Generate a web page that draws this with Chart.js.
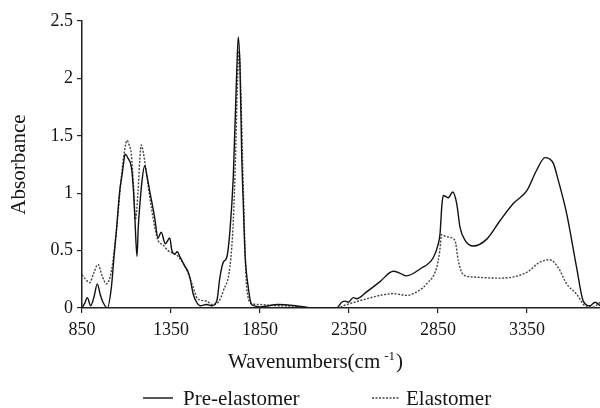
<!DOCTYPE html>
<html>
<head>
<meta charset="utf-8">
<script src="https://cdn.jsdelivr.net/npm/chart.js@4.4.1/dist/chart.umd.min.js"></script>
<style>
  html, body { margin: 0; padding: 0; background: #fff; }
  canvas { display: block; }
</style>
</head>
<body>
<canvas id="spectrum" width="600" height="408"></canvas>
<script>
// ---- Data ----

const xTicks = [850, 1350, 1850, 2350, 2850, 3350];
const yTicks = [0, 0.5, 1, 1.5, 2, 2.5];

const preWavenumber = [
  850, 865, 880, 899, 918, 936, 952, 968, 992, 1015, 1030, 1043, 1062, 1076, 1085, 1092,
  1110, 1127, 1138, 1146, 1159, 1166, 1174, 1188, 1202, 1215, 1230, 1245, 1258, 1277, 1295,
  1318, 1343, 1355, 1371, 1385, 1399, 1429, 1445, 1457, 1475, 1494, 1513, 1550, 1579, 1607,
  1625, 1644, 1663, 1681, 1700, 1719, 1728, 1738, 1747, 1756, 1766, 1784, 1803, 1850, 1950,
  2050, 2150, 2281, 2309, 2328, 2346, 2374, 2393, 2449, 2524, 2599, 2640, 2674, 2749, 2824,
  2850, 2861, 2872, 2880, 2908, 2933, 2955, 2974, 3002, 3048, 3124, 3198, 3273, 3348, 3404,
  3451, 3475, 3498, 3526, 3573, 3629, 3666, 3704, 3732, 3760
];
const preAbsorbance = [
  0.00, 0.04, 0.09, 0.02, 0.10, 0.21, 0.12, 0.05, 0.00, 0.18, 0.45, 0.67, 1.02, 1.17, 1.28, 1.34,
  1.30, 1.23, 1.05, 0.82, 0.45, 0.70, 0.88, 1.12, 1.24, 1.15, 1.02, 0.90, 0.79, 0.61, 0.66,
  0.56, 0.61, 0.50, 0.47, 0.49, 0.45, 0.36, 0.32, 0.26, 0.12, 0.05, 0.02, 0.03, 0.02, 0.06,
  0.27, 0.40, 0.44, 0.67, 1.15, 2.05, 2.36, 2.07, 1.35, 0.91, 0.47, 0.18, 0.03, 0.01, 0.03,
  0.02, 0.00, 0.00, 0.05, 0.06, 0.05, 0.09, 0.08, 0.14, 0.23, 0.32, 0.30, 0.28, 0.34, 0.44,
  0.55, 0.64, 0.90, 0.98, 0.96, 1.01, 0.91, 0.70, 0.59, 0.54, 0.60, 0.76, 0.91, 1.02, 1.20,
  1.31, 1.30, 1.26, 1.11, 0.82, 0.35, 0.06, 0.02, 0.05, 0.02
];

const elaWavenumber = [
  850, 870, 893, 915, 940, 963, 987, 1015, 1043, 1071, 1090, 1103, 1115, 1127, 1140, 1150,
  1165, 1175, 1183, 1195, 1207, 1239, 1277, 1305, 1333, 1360, 1389, 1436, 1470, 1500, 1550,
  1580, 1620, 1644, 1681, 1700, 1712, 1722, 1733, 1742, 1756, 1775, 1803, 1850, 1950, 2050,
  2150, 2290, 2320, 2380, 2449, 2524, 2599, 2674, 2740, 2786, 2842, 2860, 2870, 2898, 2945,
  2964, 2992, 3048, 3198, 3348, 3423, 3479, 3526, 3573, 3629, 3676, 3723, 3760
];
const elaAbsorbance = [
  0.29, 0.25, 0.22, 0.30, 0.38, 0.28, 0.21, 0.32, 0.67, 1.14, 1.38, 1.46, 1.42, 1.34, 1.05, 0.77,
  1.02, 1.30, 1.42, 1.35, 1.23, 0.88, 0.59, 0.55, 0.50, 0.48, 0.45, 0.34, 0.20, 0.08, 0.06,
  0.03, 0.06, 0.15, 0.36, 0.76, 1.30, 1.90, 2.24, 1.90, 1.05, 0.18, 0.04, 0.03, 0.02, 0.015,
  0.00, 0.00, 0.02, 0.05, 0.08, 0.11, 0.125, 0.11, 0.15, 0.21, 0.35, 0.50, 0.64, 0.62, 0.59,
  0.41, 0.29, 0.27, 0.26, 0.31, 0.40, 0.42, 0.35, 0.21, 0.12, 0.02, 0.01, 0.05
];

// ---- Helpers ----

const SERIF = '"Liberation Serif", "Times New Roman", serif';
const INK = '#151515';

function toPoints(xs, ys) {
  return xs.map((x, i) => ({ x, y: ys[i] }));
}

// x-axis title with raised "-1" and the two-entry legend under it
const bottomText = {
  id: 'bottomText',
  afterDraw(chart) {
    const ctx = chart.ctx;
    ctx.save();
    ctx.fillStyle = INK;
    ctx.textBaseline = 'alphabetic';
    ctx.textAlign = 'left';

    // Wavenumbers(cm -1)
    let x = 228;
    ctx.font = `21px ${SERIF}`;
    ctx.fillText('Wavenumbers(cm', x, 368);
    x += ctx.measureText('Wavenumbers(cm').width + 4;
    ctx.font = `13px ${SERIF}`;
    ctx.fillText('-1', x, 360);
    x += ctx.measureText('-1').width + 1;
    ctx.font = `21px ${SERIF}`;
    ctx.fillText(')', x, 368);

    // legend
    const items = [
      { ds: chart.data.datasets[0], x0: 143, x1: 173, tx: 183 },
      { ds: chart.data.datasets[1], x0: 372, x1: 400, tx: 406 },
    ];
    items.forEach(it => {
      ctx.beginPath();
      ctx.strokeStyle = it.ds.borderColor;
      ctx.lineWidth = it.ds.borderWidth;
      ctx.setLineDash(it.ds.borderDash || []);
      ctx.moveTo(it.x0, 398);
      ctx.lineTo(it.x1, 398);
      ctx.stroke();
      ctx.setLineDash([]);
      ctx.font = `21px ${SERIF}`;
      ctx.fillText(it.ds.label, it.tx, 405);
    });
    ctx.restore();
  }
};

new Chart(document.getElementById('spectrum'), {
  type: 'line',
  data: {
    datasets: [
      {
        label: 'Pre-elastomer',
        data: toPoints(preWavenumber, preAbsorbance),
        borderColor: '#111',
        borderWidth: 1.4,
        pointRadius: 0,
        cubicInterpolationMode: 'monotone',
        fill: false,
      },
      {
        label: 'Elastomer',
        data: toPoints(elaWavenumber, elaAbsorbance),
        borderColor: '#444',
        borderWidth: 1.4,
        borderDash: [2, 1.5],
        pointRadius: 0,
        cubicInterpolationMode: 'monotone',
        fill: false,
      },
    ],
  },
  options: {
    responsive: false,
    animation: false,
    devicePixelRatio: 1,
    layout: { padding: { top: 21, right: 0, bottom: 0, left: 0 } },
    plugins: {
      legend: { display: false },
      tooltip: { enabled: false },
    },
    scales: {
      x: {
        type: 'linear',
        min: 850,
        max: 3760,
        afterBuildTicks: s => { s.ticks = xTicks.map(v => ({ value: v })); },
        afterFit: s => { s.height = 100; },
        ticks: {
          color: INK, font: { family: SERIF, size: 18 }, padding: 6, maxRotation: 0, autoSkip: false,
          callback: v => String(v),
        },
        grid: { drawOnChartArea: false, drawTicks: true, tickLength: 5, color: '#222', lineWidth: 1.2 },
        border: { display: true, color: '#222', width: 1.5 },
      },
      y: {
        min: 0,
        max: 2.5,
        afterBuildTicks: s => { s.ticks = yTicks.map(v => ({ value: v })); },
        afterFit: s => { s.width = 82; },
        ticks: { color: INK, font: { family: SERIF, size: 18 }, padding: 4, callback: v => String(v) },
        grid: { drawOnChartArea: false, drawTicks: true, tickLength: 5, color: '#222', lineWidth: 1.2 },
        border: { display: true, color: '#222', width: 1.5 },
        title: {
          display: true,
          text: 'Absorbance',
          color: INK,
          font: { family: SERIF, size: 21 },
          padding: { top: 7, bottom: 0 },
        },
      },
    },
  },
  plugins: [bottomText],
});
</script>
</body>
</html>
